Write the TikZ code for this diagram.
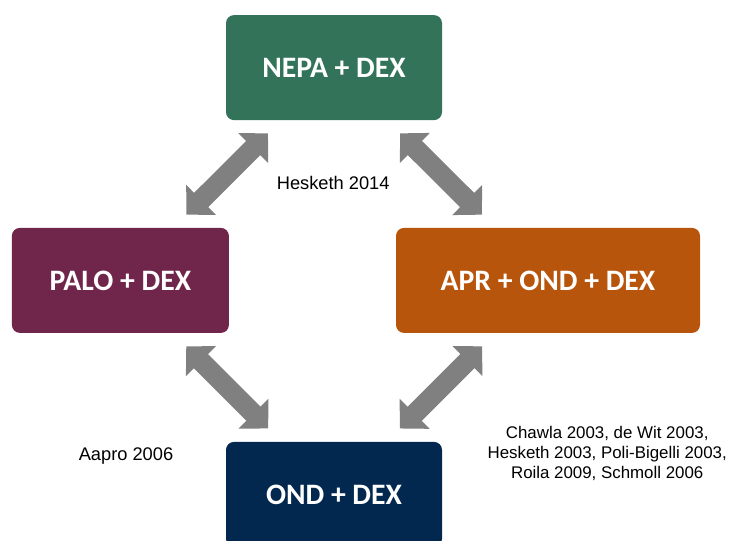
\documentclass[tikz,border=0pt]{standalone}
\usepackage{fontspec}
\setmainfont{Liberation Sans}
\newfontfamily\boxfont{Carlito}
\usetikzlibrary{arrows.meta}
\definecolor{nepa-green}{HTML}{32735A}
\definecolor{palo-plum}{HTML}{70264A}
\definecolor{apr-orange}{HTML}{B8550D}
\definecolor{ond-navy}{HTML}{022850}
\definecolor{link-grey}{HTML}{808080}

\begin{document}
\begin{tikzpicture}[
        box/.style={rounded corners=0.2cm, minimum height=2.625cm,
            align=center, text=white, font=\boxfont\bfseries\fontsize{21.1}{25}\selectfont},
        link/.style={link-grey, line width=0.5cm,
            {Triangle[width=1.03cm, length=0.52cm]}-{Triangle[width=1.03cm, length=0.52cm]},
            shorten <=2.33cm, shorten >=2.33cm},
        cite/.style={font=\fontsize{13}{15}\selectfont, align=center}]
      \useasboundingbox (0,0) rectangle (18.25,-13.5);
      \begin{scope}
        \clip (0,0) rectangle (18.25,-13.5);
        \node[box, fill=nepa-green, minimum width=5.4cm]
              (NEPA) at (8.35,-1.69) {NEPA + DEX};
        \node[box, fill=palo-plum, minimum width=5.425cm]
              (PALO) at (3.01,-7.01) {PALO + DEX};
        \node[box, fill=apr-orange, minimum width=7.6cm]
              (APR) at (13.7,-7.01) {APR + OND + DEX};
        \node[box, fill=ond-navy, minimum width=5.4cm]
              (OND) at (8.35,-12.36) {OND + DEX};
      \end{scope}
      % double-headed links between the regimens
      \draw[link] (NEPA.center) -- (PALO.center);
      \draw[link] (NEPA.center) -- (APR.center);
      \draw[link] (PALO.center) -- (OND.center);
      \draw[link] (APR.center) -- (OND.center);
      % trial references
      \node[cite] (top-ref) at (8.33,-4.58) {Hesketh 2014};
      \node[cite] (left-ref) at (3.15,-11.4) {Aapro 2006};
      \node[cite, font=\fontsize{12}{14.2}\selectfont] (right-ref) at (15.18,-11.33)
            {Chawla 2003, de Wit 2003,\\Hesketh 2003, Poli-Bigelli 2003,\\Roila 2009, Schmoll 2006};
    \end{tikzpicture}
\end{document}
